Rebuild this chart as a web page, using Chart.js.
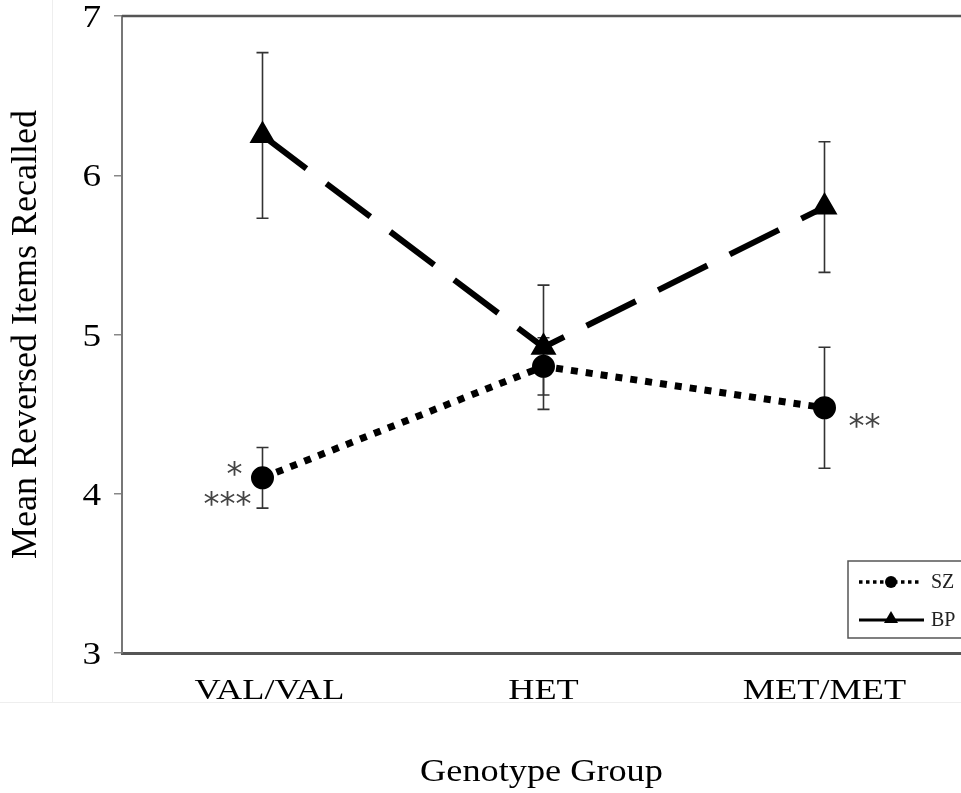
<!DOCTYPE html>
<html>
<head>
<meta charset="utf-8">
<script src="https://cdn.jsdelivr.net/npm/chart.js@4.4.1/dist/chart.umd.min.js"></script>
<style>
  html, body { margin: 0; padding: 0; background: #fff; overflow: hidden; }
  #wrap { width: 980px; height: 793px; }
</style>
</head>
<body>
<div id="wrap"><canvas id="genoChart" width="980" height="793"></canvas></div>
<script>
// Recall of reversed items by COMT genotype, SZ vs BP groups
const genotypes = ["VAL/VAL", "HET", "MET/MET"];
const xTitle = "Genotype Group";

const szMean  = [4.10, 4.80, 4.54];
const szUpper = [4.29, 4.98, 4.92];
const szLower = [3.91, 4.62, 4.16];

const bpMean  = [6.25, 4.92, 5.80];
const bpUpper = [6.77, 5.31, 6.21];
const bpLower = [5.73, 4.53, 5.39];

// significance marks beside the SZ points (one list per genotype, top to bottom)
const szStars = [["*", "***"], [], ["**"]];

const yTicks = [3, 4, 5, 6, 7];

const SERIF = "'Liberation Serif', 'Times New Roman', serif";

// text widened horizontally about its anchor point
function wideText(ctx, text, ax, ay, sx) {
  ctx.save();
  ctx.translate(ax, ay);
  ctx.scale(sx, 1);
  ctx.fillText(text, 0, 0);
  ctx.restore();
}

const errorBarPlugin = {
  id: "errorBarPlugin",
  beforeDatasetsDraw(chart) {
    const { ctx } = chart;
    const x = chart.scales.x, y = chart.scales.y;
    const sets = [[szUpper, szLower], [bpUpper, bpLower]];
    ctx.save();
    ctx.strokeStyle = "#333";
    ctx.lineWidth = 1.6;
    sets.forEach(([hi, lo]) => {
      for (let i = 0; i < genotypes.length; i++) {
        const px = x.getPixelForValue(i);
        const top = y.getPixelForValue(hi[i]);
        const bot = y.getPixelForValue(lo[i]);
        ctx.beginPath();
        ctx.moveTo(px, top); ctx.lineTo(px, bot);
        ctx.moveTo(px - 6, top); ctx.lineTo(px + 6, top);
        ctx.moveTo(px - 6, bot); ctx.lineTo(px + 6, bot);
        ctx.stroke();
      }
    });
    ctx.restore();
  }
};

const framePlugin = {
  id: "framePlugin",
  beforeDraw(chart) {
    const { ctx } = chart;
    ctx.save();
    ctx.strokeStyle = "#eeeeee";
    ctx.lineWidth = 1;
    ctx.beginPath();
    ctx.moveTo(52.5, 0); ctx.lineTo(52.5, 702);
    ctx.moveTo(0, 702.5); ctx.lineTo(980, 702.5);
    ctx.stroke();
    ctx.restore();
  },
  afterDraw(chart) {
    const { ctx, chartArea } = chart;
    const x = chart.scales.x, y = chart.scales.y;
    ctx.save();
    // top frame line
    ctx.strokeStyle = "#555";
    ctx.lineWidth = 2.5;
    ctx.beginPath();
    ctx.moveTo(chartArea.left, chartArea.top);
    ctx.lineTo(chartArea.right, chartArea.top);
    ctx.stroke();

    ctx.fillStyle = "#000";
    ctx.textBaseline = "middle";

    // y tick labels
    ctx.font = "31px " + SERIF;
    ctx.textAlign = "right";
    yTicks.forEach(v => {
      wideText(ctx, String(v), chartArea.left - 21, y.getPixelForValue(v) + 3, 1.2);
    });

    // category labels and axis title
    ctx.textAlign = "center";
    ctx.font = "30px " + SERIF;
    genotypes.forEach((g, i) => {
      wideText(ctx, g, x.getPixelForValue(i) + (i === 0 ? 7 : 0), chartArea.bottom + 38, 1.21);
    });
    ctx.font = "31px " + SERIF;
    wideText(ctx, xTitle, (x.getPixelForValue(0) + x.getPixelForValue(2)) / 2 - 2, 773, 1.17);

    // significance asterisks
    ctx.fillStyle = "#444";
    ctx.font = "32px 'DejaVu Sans', sans-serif";
    szStars.forEach((marks, i) => {
      if (!marks.length) return;
      const px = x.getPixelForValue(i);
      const py = y.getPixelForValue(szMean[i]);
      if (i === 0) {
        ctx.textAlign = "right";
        ctx.fillText(marks[0], px - 20, py - 2);
        ctx.fillText(marks[1], px - 11, py + 28);
      } else {
        ctx.textAlign = "left";
        ctx.fillText(marks[0], px + 24, py + 20);
      }
    });

    // legend box
    const lx = 848, ly = 561;
    ctx.strokeStyle = "#555";
    ctx.lineWidth = 1.5;
    ctx.strokeRect(lx, ly, 140, 77);
    ctx.strokeStyle = "#000";
    ctx.fillStyle = "#000";
    // SZ sample
    ctx.lineWidth = 3.5;
    ctx.setLineDash([3.5, 3.5]);
    ctx.beginPath();
    ctx.moveTo(859, 582); ctx.lineTo(922, 582);
    ctx.stroke();
    ctx.setLineDash([]);
    ctx.beginPath();
    ctx.arc(891, 582, 6, 0, Math.PI * 2);
    ctx.fill();
    // BP sample
    ctx.lineWidth = 3;
    ctx.beginPath();
    ctx.moveTo(859, 620); ctx.lineTo(924, 620);
    ctx.stroke();
    ctx.beginPath();
    ctx.moveTo(891, 611); ctx.lineTo(898, 623); ctx.lineTo(884, 623);
    ctx.closePath();
    ctx.fill();
    ctx.font = "20px " + SERIF;
    ctx.textAlign = "left";
    ctx.fillStyle = "#222";
    ctx.fillText("SZ", 931, 583);
    ctx.fillText("BP", 931, 621);
    ctx.restore();
  }
};

new Chart(document.getElementById("genoChart"), {
  type: "line",
  data: {
    labels: genotypes,
    datasets: [
      {
        label: "SZ",
        data: szMean,
        borderColor: "#000",
        backgroundColor: "#000",
        borderWidth: 7,
        borderDash: [7, 8],
        borderCapStyle: "butt",
        pointStyle: "circle",
        pointRadius: 8,
        pointBackgroundColor: "#000",
        pointBorderColor: "#000",
        tension: 0
      },
      {
        label: "BP",
        data: bpMean,
        borderColor: "#000",
        backgroundColor: "#000",
        borderWidth: 6,
        borderDash: [55, 25],
        borderCapStyle: "butt",
        pointStyle: "triangle",
        pointRadius: 9,
        pointBackgroundColor: "#000",
        pointBorderColor: "#000",
        tension: 0
      }
    ]
  },
  options: {
    responsive: false,
    animation: false,
    layout: { padding: { top: 16, left: 0, right: 7, bottom: 0 } },
    plugins: { legend: { display: false }, tooltip: { enabled: false } },
    scales: {
      x: {
        type: "category",
        offset: true,
        grid: { display: false, drawTicks: false },
        border: { display: true, color: "#555", width: 3 },
        ticks: { display: false },
        afterFit(scale) {
          scale.height = 140;
          scale.paddingLeft = 0; scale.paddingRight = 0;
        }
      },
      y: {
        min: 3, max: 7,
        afterBuildTicks(scale) { scale.ticks = yTicks.map(v => ({ value: v })); },
        grid: { drawOnChartArea: false, drawTicks: true, tickLength: 8, color: "#888", lineWidth: 1.5 },
        border: { display: true, color: "#777", width: 2 },
        ticks: { display: false },
        title: {
          display: true, text: "Mean Reversed Items Recalled", color: "#000",
          font: { family: SERIF, size: 36 }, padding: { top: 5, bottom: 0 }
        },
        afterFit(scale) {
          scale.width = 122;
          scale.paddingTop = 0; scale.paddingBottom = 0;
        }
      }
    }
  },
  plugins: [errorBarPlugin, framePlugin]
});
</script>
</body>
</html>
